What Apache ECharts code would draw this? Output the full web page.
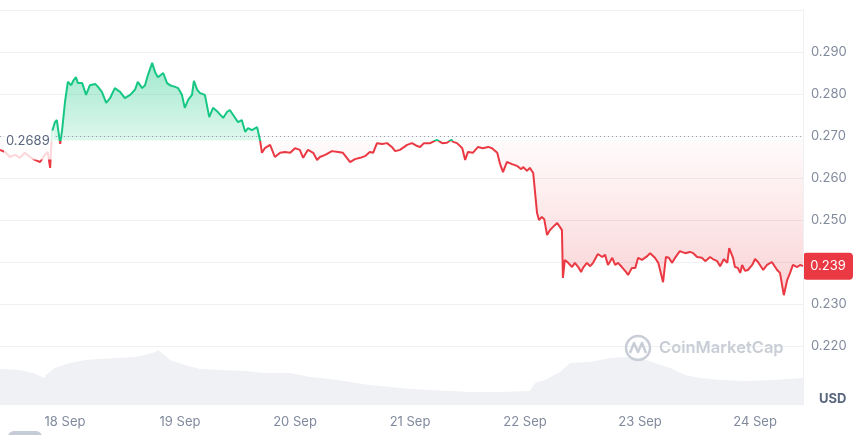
<!DOCTYPE html>
<html><head><meta charset="utf-8">
<script src="https://cdn.jsdelivr.net/npm/echarts@6/dist/echarts.min.js"></script>
<style>html,body{margin:0;padding:0;background:#fff}#c{width:860px;height:435px}</style>
</head><body><div id="c"></div>
<script>
// hours since 18 Sep 00:00
const dayTicks = [0, 24, 48, 72, 96, 120, 144];
const dayLabels = ['18 Sep', '19 Sep', '20 Sep', '21 Sep', '22 Sep', '23 Sep', '24 Sep'];
const priceTicks = [0.22, 0.23, 0.24, 0.25, 0.26, 0.27, 0.28, 0.29, 0.30];
const openPrice = 0.2689;
const lastPrice = 0.239;
const xRange = [-13.56, 154.0];

const pricePoints = [
  [-13.6,0.2667],[-12.5,0.2662],[-11.5,0.2650],[-10.4,0.2655],[-9.4,0.2648],[-8.4,0.2660],[-7.3,0.2650],[-6.3,0.2643],
  [-5.2,0.2638],[-4.2,0.2655],[-3.6,0.2662],[-3.1,0.2624],[-2.7,0.2710],[-2.1,0.2733],[-1.7,0.2738],[-1.0,0.2681],[-0.6,0.2714],
  [0.0,0.2781],[0.6,0.2829],[1.3,0.2821],[1.7,0.2831],[2.3,0.2840],[2.7,0.2826],[3.6,0.2826],[4.4,0.2798],[5.2,0.2821],
  [6.3,0.2824],[6.9,0.2817],[7.7,0.2805],[8.6,0.2779],[9.4,0.2790],[10.4,0.2814],[11.5,0.2805],[12.5,0.2790],[13.6,0.2798],
  [14.6,0.2810],[15.2,0.2829],[16.1,0.2814],[16.7,0.2821],[17.3,0.2845],[18.2,0.2874],[18.8,0.2852],[19.4,0.2840],[19.8,0.2840],
  [20.5,0.2850],[21.3,0.2826],[21.9,0.2821],[23.0,0.2817],[23.6,0.2814],
  [24.4,0.2798],[25.0,0.2767],[25.7,0.2786],[26.5,0.2798],[26.9,0.2831],[27.6,0.2810],[28.2,0.2802],[29.2,0.2798],[30.1,0.2745],
  [30.9,0.2767],[31.9,0.2757],[33.0,0.2743],[33.8,0.2757],[34.4,0.2762],[35.1,0.2750],[36.1,0.2733],[36.9,0.2738],[37.6,0.2710],
  [38.2,0.2719],[39.0,0.2714],[40.1,0.2721],[40.7,0.2690],[41.1,0.2660],[41.7,0.2671],[42.8,0.2679],[43.8,0.2650],[44.9,0.2660],
  [45.9,0.2662],[47.0,0.2660],
  [48.0,0.2671],[49.0,0.2667],[49.7,0.2648],[50.7,0.2667],[51.8,0.2660],[52.6,0.2643],[53.2,0.2650],[54.3,0.2655],[55.7,0.2664],
  [57.0,0.2662],[58.0,0.2660],[59.5,0.2638],[60.5,0.2645],[61.6,0.2648],[62.6,0.2652],[63.6,0.2662],[64.3,0.2660],[65.1,0.2683],
  [66.2,0.2681],[67.2,0.2683],[68.2,0.2674],[68.9,0.2664],[69.9,0.2667],[71.4,0.2679],
  [72.4,0.2683],[73.5,0.2676],[74.1,0.2674],[74.9,0.2683],[76.2,0.2683],[77.6,0.2691],[78.7,0.2683],[79.7,0.2684],[80.6,0.2691],
  [81.0,0.2686],[81.8,0.2683],[82.9,0.2671],[83.5,0.2643],[84.1,0.2662],[85.1,0.2660],[86.2,0.2674],[87.2,0.2671],[88.3,0.2674],
  [89.1,0.2671],[90.2,0.2660],[90.8,0.2633],[91.4,0.2614],[92.2,0.2638],[93.3,0.2633],[94.3,0.2629],[95.2,0.2621],[95.6,0.2626],
  [96.4,0.2617],[97.0,0.2624],[97.7,0.2612],[98.1,0.2610],[98.5,0.2517],[98.9,0.2500],[99.5,0.2507],[100.0,0.2502],[100.6,0.2464],
  [101.2,0.2476],[101.8,0.2483],[102.7,0.2493],[103.3,0.2483],[103.7,0.2476],[103.9,0.2362],[104.3,0.2405],[105.0,0.2398],
  [105.8,0.2388],[106.4,0.2398],[107.1,0.2388],[107.7,0.2376],[108.1,0.2386],[108.9,0.2398],[109.6,0.2390],[110.2,0.2398],
  [111.2,0.2419],[112.1,0.2412],[112.7,0.2417],[113.3,0.2393],[114.2,0.2410],[114.8,0.2393],[115.4,0.2398],[116.2,0.2388],
  [117.1,0.2376],[117.5,0.2369],[118.3,0.2386],[119.0,0.2386],[119.6,0.2410],
  [120.4,0.2405],[121.5,0.2414],[122.1,0.2421],[123.1,0.2410],[123.8,0.2398],[124.8,0.2352],[125.4,0.2412],[126.0,0.2410],
  [126.7,0.2398],[127.3,0.2410],[128.3,0.2426],[129.4,0.2421],[130.4,0.2424],[131.1,0.2421],[131.9,0.2412],[132.9,0.2410],
  [133.6,0.2402],[134.6,0.2412],[135.2,0.2407],[136.1,0.2402],[136.7,0.2390],[137.5,0.2407],[138.2,0.2398],[138.6,0.2433],
  [139.4,0.2410],[139.8,0.2388],[140.4,0.2386],[140.9,0.2374],[141.3,0.2393],[141.9,0.2379],[142.5,0.2381],[143.4,0.2393],
  [144.0,0.2407],[144.6,0.2400],[145.7,0.2381],[146.5,0.2393],[147.5,0.2400],[148.6,0.2381],[149.2,0.2374],[150.0,0.2321],
  [150.7,0.2357],[151.3,0.2374],[151.9,0.2393],[152.8,0.2388],[153.4,0.2393],[154.0,0.2390]
];

// volume, arbitrary units (millions)
const volumePoints = [
  [-13.6,360],[-9.4,350],[-6.7,320],[-4.2,270],[-4.0,300],[-2.1,370],[1.0,420],[4.2,450],[7.3,460],[11.5,470],
  [14.6,480],[16.7,500],[18.8,530],[19.4,550],[20.2,520],[21.9,450],[25.0,400],[28.2,360],[32.3,350],[37.6,340],
  [41.7,320],[47.0,320],[51.1,280],[55.3,260],[59.5,230],[63.6,200],[67.8,180],[72.0,160],[76.2,150],[84.5,130],
  [90.8,130],[97.0,140],[98.1,220],[100.2,250],[103.3,330],[105.4,420],[109.6,430],[113.7,470],[116.9,480],[120.0,470],
  [123.1,420],[126.3,370],[129.4,300],[132.5,270],[136.7,250],[141.9,240],[148.2,250],[151.3,260],[154.0,270]
];

const GREEN = '#16c784', RED = '#ea3943';
const LABEL = '#808a9d';
const FONT = 'Inter, "Noto Sans", sans-serif';

const chart = echarts.init(document.getElementById('c'), null, {renderer: 'canvas'});

const option = {
  animation: false,
  textStyle: {fontFamily: FONT},
  grid: [
    {left: 0, right: 57, top: 10, height: 336},
    {left: 0, right: 57, top: 346, height: 59}
  ],
  xAxis: [
    {gridIndex: 0, type: 'value', min: xRange[0], max: xRange[1], show: false},
    {gridIndex: 1, type: 'value', min: xRange[0], max: xRange[1],
     axisLine: {show: false}, axisTick: {show: false}, splitLine: {show: false},
     axisLabel: {customValues: dayTicks, formatter: v => dayLabels[dayTicks.indexOf(v)] || '',
                 color: LABEL, fontSize: 13, margin: 11, fontFamily: FONT}}
  ],
  yAxis: [
    {gridIndex: 0, type: 'value', position: 'right', min: priceTicks[0], max: priceTicks[priceTicks.length - 1], interval: 0.01,
     axisLine: {show: true, onZero: false, lineStyle: {color: '#eef0f3'}}, axisTick: {show: false},
     splitLine: {lineStyle: {color: '#eff1f4'}},
     axisLabel: {showMaxLabel: false, formatter: v => (Math.abs(v - lastPrice) < 0.004 ? '' : v.toFixed(3)),
                 color: LABEL, fontSize: 13, margin: 8, fontFamily: FONT}},
    {gridIndex: 1, type: 'value', position: 'right', min: 0, max: 590,
     axisLine: {show: true, onZero: false, lineStyle: {color: '#eef0f3'}}, axisTick: {show: false},
     splitLine: {show: false}, axisLabel: {show: false}}
  ],
  series: [
    {type: 'line', xAxisIndex: 1, yAxisIndex: 1, data: volumePoints, symbol: 'none', silent: true,
     lineStyle: {width: 0}, areaStyle: {color: '#eff1f5', opacity: 1}, z: 1},
    {type: 'line', xAxisIndex: 0, yAxisIndex: 0, data: pricePoints, symbol: 'none', silent: true,
     lineStyle: {width: 2, color: RED}, areaStyle: {origin: openPrice, opacity: 1, color: 'rgba(234,57,67,0.1)'}, z: 3,
     markLine: {silent: true, symbol: ['none', 'none'],
       data: [
         {yAxis: openPrice, lineStyle: {type: [1, 3], color: '#98a0ae', width: 1}, label: {show: false}}
       ]}}
  ]
};
chart.setOption(option);

const H = 435;
const baseY = chart.convertToPixel({xAxisIndex: 0, yAxisIndex: 0}, [0, openPrice])[1];
const lastPt = chart.convertToPixel({xAxisIndex: 0, yAxisIndex: 0}, [xRange[1], lastPrice]);
const b = baseY / H;
const lineGrad = new echarts.graphic.LinearGradient(0, 0, 0, H, [
  {offset: 0, color: GREEN}, {offset: b, color: GREEN}, {offset: b, color: RED}, {offset: 1, color: RED}
], true);
const areaGrad = new echarts.graphic.LinearGradient(0, 0, 0, H, [
  {offset: 0, color: 'rgba(22,199,132,0.42)'}, {offset: 70 / H, color: 'rgba(22,199,132,0.38)'},
  {offset: b, color: 'rgba(22,199,132,0.14)'}, {offset: b, color: 'rgba(234,57,67,0.02)'},
  {offset: 280 / H, color: 'rgba(234,57,67,0.20)'}, {offset: 1, color: 'rgba(234,57,67,0.20)'}
], true);

chart.setOption({
  series: [{}, {lineStyle: {color: lineGrad}, areaStyle: {color: areaGrad}}],
  graphic: [
    {type: 'text', left: 4, top: baseY - 10, z: 10,
     style: {text: openPrice.toFixed(4), fill: '#58667e', fontSize: 13, fontFamily: FONT,
             backgroundColor: 'rgba(255,255,255,0.8)', padding: [4, 4, 12, 2]}},
    {type: 'group', left: lastPt[0], top: lastPt[1] - 13.5, z: 10, children: [
      {type: 'rect', shape: {x: 0, y: 0, width: 50, height: 27, r: 4}, style: {fill: RED}},
      {type: 'text', style: {x: 25, y: 13.5, text: lastPrice.toFixed(3), fill: '#fff', fontSize: 13,
        fontFamily: FONT, align: 'center', verticalAlign: 'middle'}}
    ]},
    {type: 'text', left: 819, top: 393, style: {text: 'USD', fill: '#58667e', fontSize: 13, fontWeight: 'bold', fontFamily: FONT}},
    {type: 'circle', shape: {cx: 638, cy: 348, r: 12}, style: {fill: 'none', stroke: '#c9ced6', lineWidth: 2.5}, z: 5},
    {type: 'polyline', shape: {points: [[630, 353], [634, 343], [638, 352], [642, 343], [646, 353]]},
     style: {fill: 'none', stroke: '#c9ced6', lineWidth: 2.5, lineJoin: 'round'}, z: 5},
    {type: 'text', left: 659, top: 340, z: 5,
     style: {text: 'CoinMarketCap', fill: '#c9ced6', fontSize: 16.5, fontWeight: 600, fontFamily: FONT}},
    {type: 'rect', shape: {x: 8, y: 431, width: 34, height: 12, r: 6}, style: {fill: '#c5ccd8'}}
  ]
});
</script>
</body></html>
